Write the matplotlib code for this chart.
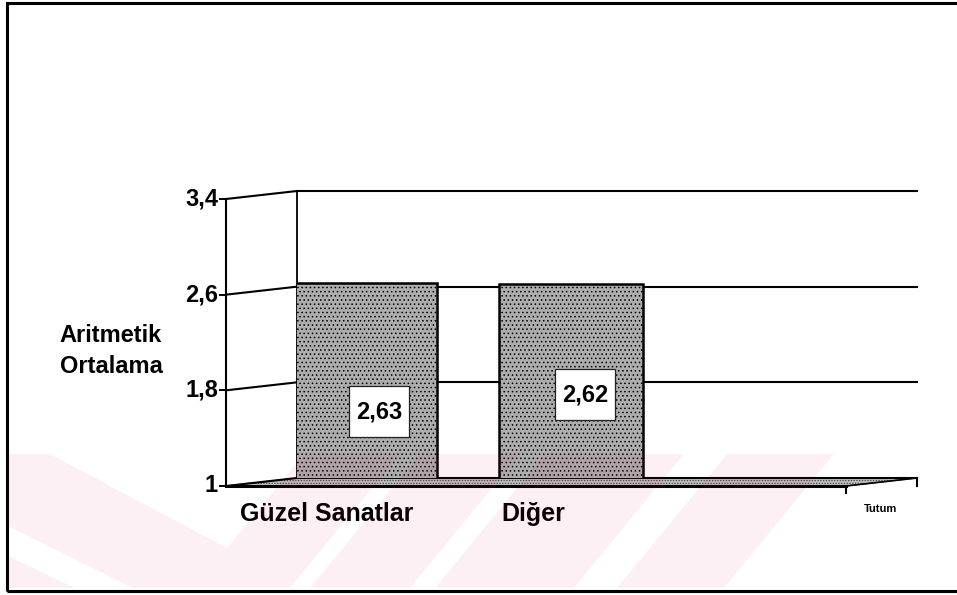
import numpy as np
import matplotlib.pyplot as plt
from matplotlib.patches import Polygon, Rectangle
from matplotlib.transforms import ScaledTranslation, Affine2D

categories = ['Güzel Sanatlar', 'Diğer']
means = [2.63, 2.62]
value_labels = ['2,63', '2,62']
y_ticks = [1, 1.8, 2.6, 3.4]
y_tick_labels = ['1', '1,8', '2,6', '3,4']
y_title = 'Aritmetik\nOrtalama'
x_title = 'Tutum'

plt.rcParams['font.family'] = ['Liberation Sans', 'DejaVu Sans']
plt.rcParams['font.weight'] = 'bold'
plt.rcParams['hatch.linewidth'] = 0.6

W, H = 957, 595
fig = plt.figure(figsize=(W / 100, H / 100), dpi=100)
# axes = back wall of the fake 3d box
ax = fig.add_axes([297 / W, 1 - 478 / H, 620 / W, 287 / H])
ax.set_xlim(-0.33, 2.68)
ax.set_ylim(y_ticks[0], y_ticks[-1])
ax.axis('off')

# depth of the box in pixels (front plane is left and lower)
dx, dy = -71, -8
px = fig.dpi_scale_trans
yax = ax.get_yaxis_transform()
front = yax + ScaledTranslation(dx / 100, dy / 100, px)
dxa, dya = dx / 620, dy / 287

# floor
ax.add_patch(Polygon([(0, 0), (1, 0), (1 + dxa, dya), (dxa, dya)], closed=True,
                     transform=ax.transAxes, clip_on=False, facecolor='#c0c0c0',
                     edgecolor='#444444', hatch='......', lw=0.8, zorder=1))
ax.plot([dxa, 1 + dxa], [dya, dya], transform=ax.transAxes, color='k', lw=2.2,
        clip_on=False, zorder=5)
ax.plot([1 + dxa, 1], [dya, 0], transform=ax.transAxes, color='k', lw=1.2,
        clip_on=False, zorder=5)
ax.plot([1, 1], [0, dya], transform=ax.transAxes, color='k', lw=1.5, clip_on=False)
ax.plot([1 + dxa, 1 + dxa], [dya, dya - 7 / 287], transform=ax.transAxes,
        color='k', lw=1.5, clip_on=False)

# back wall, gridlines, front axis
ax.plot([0, 0], [y_ticks[0], y_ticks[-1]], transform=yax, color='k', lw=1.3,
        clip_on=False)
ax.plot([0, 0], [y_ticks[0], y_ticks[-1]], transform=front, color='k', lw=1.5,
        clip_on=False, zorder=5)
for v, lab in zip(y_ticks, y_tick_labels):
    ax.plot([0, 1], [v, v], transform=yax, color='k', lw=1.5, clip_on=False)
    ax.annotate('', xy=(0, v), xycoords=yax, xytext=(dx, dy),
                textcoords='offset pixels',
                arrowprops=dict(arrowstyle='-', lw=1.5, color='k',
                                shrinkA=0, shrinkB=0))
    ax.plot([0], [v], transform=front, marker=0, ms=5, mew=1.4, color='k',
            clip_on=False)
    ax.annotate(lab, xy=(0, v), xycoords=front, xytext=(-8, 0),
                textcoords='offset pixels', ha='right', va='center', fontsize=17)

# bars
x = np.arange(len(categories))
ax.bar(x, means, width=0.70, color='#adadad', edgecolor='k', lw=1.8,
       hatch='....', zorder=3)

# value boxes (60 x 51 px) slightly right of the bar centre
label_y = [1.55, 1.69]
for xi, ly, lab in zip(x, label_y, value_labels):
    box_tr = Affine2D().translate(14, 0) + ScaledTranslation(xi, ly, ax.transData)
    ax.add_patch(Rectangle((-30, -25), 60, 51, transform=box_tr, facecolor='white',
                           edgecolor='#222222', lw=0.9, zorder=6, clip_on=False))
    ax.annotate(lab, xy=(xi, ly), xytext=(14, 0), textcoords='offset pixels',
                ha='center', va='center', fontsize=17, zorder=7)

for xi, cat in zip(x, categories):
    ax.annotate(cat, xy=(xi, 0), xycoords=('data', 'axes fraction'),
                xytext=(-38, -43), textcoords='offset pixels',
                ha='center', va='baseline', fontsize=18)

ax.annotate(x_title, xy=(1, 0), xycoords='axes fraction', xytext=(-36, -34),
            textcoords='offset pixels', ha='center', va='baseline',
            fontsize=8, fontweight='bold')

fig.text(111 / W, 1 - 351 / H, y_title, ha='center', va='center',
         fontsize=17, linespacing=1.45)

# outer frame of the scanned page
fig.add_artist(Rectangle((7 / W, 1 - 591 / H), 960 / W, 588 / H, fill=False,
                         lw=2.2, edgecolor='k', transform=fig.transFigure))

# faint pink watermark stripes over the lower part of the scan
marks = [
    [(8, 454), (50, 454), (227, 548), (304, 454), (400, 454), (290, 588),
     (133, 588), (8, 526)],
    [(8, 556), (8, 588), (75, 588)],
    [(420, 454), (520, 454), (410, 588), (310, 588)],
    [(545, 454), (684, 454), (574, 588), (435, 588)],
    [(727, 454), (834, 454), (724, 588), (617, 588)],
]
for m in marks:
    pts = [(a / W, 1 - b / H) for a, b in m]
    fig.add_artist(Polygon(pts, closed=True, transform=fig.transFigure,
                           facecolor='#e0104a', alpha=0.06, lw=0, zorder=10))

fig.savefig('out.png', dpi=100)
